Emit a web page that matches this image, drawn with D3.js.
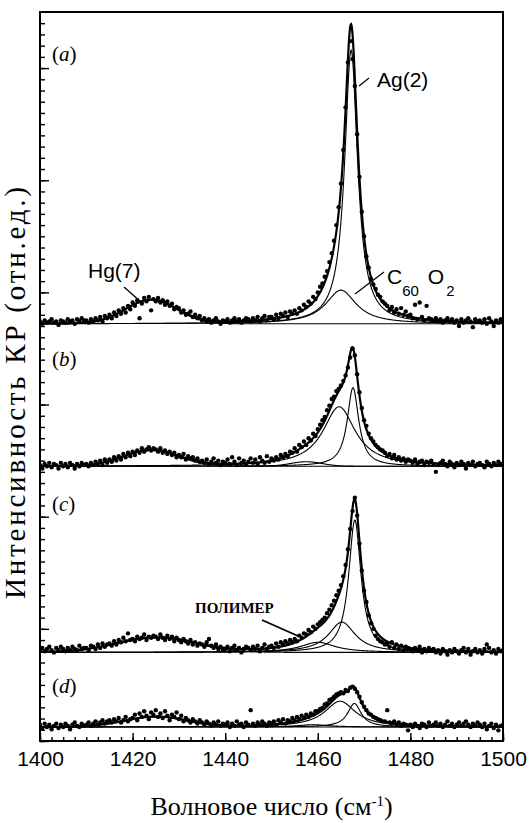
<!DOCTYPE html>
<html>
<head>
<meta charset="utf-8">
<script src="https://cdn.jsdelivr.net/npm/d3@7"></script>
<style>
html, body { margin: 0; padding: 0; background: #fff; }
</style>
</head>
<body>
<div id="chart"></div>
<script>
var width = 529, height = 823

// x axis
var xTicks = [1400, 1420, 1440, 1460, 1480, 1500]

// panels, top to bottom, baseline of each spectrum on the common intensity axis
var panelNames = ["a", "b", "c", "d"]
var panelBase = [3.72, 2.45, 0.79, 0.125]

// fitted components per panel: centre, height, FWHM, shape (L = Lorentz, G = Gauss)
var peakCenter = [
	[1467.2, 1465.0, 1424.0],
	[1467.6, 1464.6, 1457.5, 1424.0],
	[1468.0, 1465.2, 1460.0, 1425.0],
	[1467.9, 1464.8, 1459.0, 1425.0]]
var peakHeight = [
	[2.44, 0.30, 0.21],
	[0.70, 0.53, 0.04, 0.14],
	[1.18, 0.27, 0.09, 0.13],
	[0.21, 0.23, 0.02, 0.09]]
var peakWidth = [
	[3.4, 8.0, 13.0],
	[3.0, 8.5, 8.0, 14.0],
	[3.2, 7.0, 9.0, 20.0],
	[3.5, 8.0, 8.0, 16.0]]
var peakShape = [
	["L", "L", "G"],
	["L", "L", "G", "G"],
	["L", "L", "L", "G"],
	["L", "L", "L", "G"]]

// measured points, 1400..1500 cm-1 every 0.5 cm-1
var intensityA = [
	.02,.00,.03,.01,.02,.04,.01,.02,-.01,.03, .02,.01,.04,.02,.03,.00,.04,.02,.05,.03,
	.03,.01,.04,.02,.05,.03,.06,.02,.07,.05, .08,.05,.10,.07,.12,.09,.14,.10,.16,.13,
	.19,.16,.21,.05,.18,.23,.20,.24,.12,.22, .20,.23,.19,.21,.17,.20,.16,.18,.13,.15,
	.14,.10,.12,.08,.09,.11,.06,.08,.05,.07, .03,.05,.02,.04,.01,.03,.05,.02,.00,.03,
	.02,.04,.01,.03,.05,.02,.04,.01,.03,.05, .04,.02,.05,.03,.06,.02,.05,.07,.03,.06,
	.06,.04,.08,.05,.09,.07,.10,.06,.11,.09, .12,.09,.14,.12,.17,.15,.20,.18,.24,.22,
	.28,.33,.36,.42,.47,.55,.63,.74,.88,1.04, 1.25,1.55,1.93,2.33,2.52,2.36,2.12,1.69,1.31,1.00,
	.78,.60,.50,.40,.35,.31,.26,.24,.20,.18, .16,.12,.15,.10,.13,.09,.14,.08,.11,.07,
	.08,.05,.17,.04,.19,.06,.03,.16,.05,.04, .03,.05,.02,.04,.01,.03,.05,.02,.04,.01,
	.03,-.02,.04,.01,.03,.05,.02,-.03,.04,.02, .03,.01,.04,.00,.05,.02,-.02,.03,.01,.04,.02]
var intensityB = [
	.01,-.02,.02,.00,.03,-.01,.02,.01,-.02,.03, .00,.02,-.01,.03,.01,-.02,.02,.00,.03,.01,
	.02,.00,.03,.01,.04,.02,.05,.01,.06,.03, .06,.04,.08,.05,.09,.06,.11,.08,.12,.09,
	.13,.10,.14,.12,.16,.13,.15,.17,.14,.16, .15,.13,.16,.12,.14,.11,.13,.10,.12,.08,
	.10,.08,.11,.06,.09,.07,.08,.05,.07,.04, .05,.03,.06,.02,.04,.07,.03,.05,.01,.04,
	.03,.06,.02,.08,.04,.01,.07,.03,.05,.02, .04,.07,.03,.06,.02,.08,.05,.03,.09,.04,
	.07,.05,.08,.06,.10,.08,.11,.09,.13,.12, .16,.13,.19,.17,.22,.19,.25,.23,.29,.27,
	.33,.37,.41,.44,.50,.54,.60,.62,.67,.69, .72,.76,.81,.88,.97,1.05,.99,.82,.66,.52,
	.41,.36,.29,.25,.22,.19,.17,.15,.14,.12, .09,.11,.07,.10,.06,.08,.05,.07,.04,.06,
	.05,.03,.06,.02,.04,.05,.01,.04,.03,.05, .02,-.05,.01,.03,.05,.02,.00,.04,.02,-.01,
	.03,.01,.04,.02,-.02,.03,.01,.04,.00,.02, .03,.01,-.01,.04,.02,.00,.03,.01,.04,.02,.01]
var intensityC = [
	.02,.04,.01,.03,.05,.02,.00,.04,.02,.05, .03,.01,.04,.02,.05,.03,.02,.06,.03,.04,
	.04,.02,.06,.05,.03,.07,.04,.08,.05,.07, .08,.06,.10,.07,.11,.09,.13,.10,.17,.11,
	.12,.10,.14,.12,.13,.16,.11,.14,.13,.15, .14,.12,.16,.13,.11,.15,.12,.14,.10,.13,
	.11,.09,.12,.10,.08,.11,.07,.09,.06,.08, .07,.05,.09,.12,.06,.04,.07,.03,.05,.02,
	.03,.05,.01,.04,.06,.02,.04,.00,.03,.05, .04,.02,.05,.03,.06,.01,.04,.07,.03,.05,
	.06,.04,.08,.05,.09,.07,.10,.08,.11,.09, .12,.10,.15,.13,.17,.16,.20,.18,.23,.21,
	.25,.27,.29,.31,.35,.38,.42,.46,.51,.55, .60,.68,.78,.92,1.10,1.26,1.38,1.22,.97,.73,
	.55,.45,.33,.26,.21,.15,.12,.10,.09,.07, .08,.05,.09,.04,.07,.03,.06,.02,.05,.04,
	.03,.01,.04,.02,.05,.00,.03,.01,.04,.02, .03,.00,.02,-.01,.03,.01,-.02,.02,.00,.03,
	.01,-.01,.02,.04,.00,.03,-.02,.01,.03,.00, .02,-.01,.03,.07,.04,.00,.02,-.01,.03,.01,.02]
var intensityD = [
	.02,-.01,.03,.00,.02,-.02,.01,.03,-.01,.02, .00,.03,.01,-.02,.02,.04,.01,.00,.03,.01,
	.02,.04,.01,.03,.05,.02,.04,.06,.03,.05, .06,.04,.07,.05,.08,.04,.06,.09,.05,.07,
	.08,.11,.06,.12,.09,.14,.10,.07,.13,.11, .15,.09,.12,.08,.14,.10,.06,.11,.09,.13,
	.07,.10,.05,.08,.06,.04,.07,.05,.03,.06, .04,.02,.05,.03,.01,.04,.02,.05,.01,.03,
	.02,.04,.00,.03,.01,.05,.02,.03,.00,.04, .02,.15,.03,.01,.04,.02,.05,.03,.01,.04,
	.03,.05,.02,.06,.04,.07,.03,.06,.05,.08, .06,.09,.07,.10,.08,.11,.09,.12,.11,.14,
	.14,.16,.17,.20,.21,.24,.25,.27,.29,.30, .31,.30,.33,.32,.35,.36,.34,.31,.27,.22,
	.18,.15,.12,.11,.09,.08,.07,.06,.05,.05, .15,.04,.03,.05,.02,.04,.01,.03,.02,-.03,
	.02,.00,.03,.01,-.01,.03,.02,.00,.04,.01, .02,.04,.01,.03,.00,.02,.05,.01,.03,.00,
	.02,.04,.01,.03,.05,.02,.00,.03,.01,.04, .02,.00,.03,-.02,.01,.03,-.01,.02,-.03,.01,.02]
var intensities = [intensityA, intensityB, intensityC, intensityD]
var wavenumbers = intensityA.map(function(d, i){ return 1400 + i * 0.5 })

var margin = {left: 40, right: 26, top: 12, bottom: 82}
var plotW = width - margin.left - margin.right
var plotH = height - margin.top - margin.bottom

var svg = d3.select("#chart").append("svg")
	.attr("width", width)
	.attr("height", height)

var x = d3.scaleLinear().domain([1400, 1500]).range([margin.left, margin.left + plotW])
var y = d3.scaleLinear().domain([0, 6.5]).range([margin.top + plotH, margin.top])

svg.append("clipPath").attr("id", "clip")
	.append("rect")
	.attr("x", margin.left).attr("y", margin.top)
	.attr("width", plotW).attr("height", plotH)

function profile(shape, c, h, w, xv){
	var d = (xv - c) / (w / 2)
	if (shape == "L") return h / (1 + d * d)
	return h * Math.exp(-Math.LN2 * d * d)
}

var grid = d3.range(1400, 1500.001, 0.1)
var plot = svg.append("g").attr("clip-path", "url(#clip)")

panelNames.forEach(function(name, p){
	var base = panelBase[p]
	var g = plot.append("g").attr("class", "panel-" + name)
	var line = d3.line()
		.x(function(d){ return x(d[0]) })
		.y(function(d){ return y(base + d[1]) })

	// components (thin)
	peakCenter[p].forEach(function(c, k){
		var pts = grid.map(function(xv){ return [xv, profile(peakShape[p][k], c, peakHeight[p][k], peakWidth[p][k], xv)] })
		g.append("path").datum(pts)
			.attr("d", line)
			.attr("fill", "none").attr("stroke", "#000").attr("stroke-width", 1.1)
	})

	// sum of components (thick)
	var total = grid.map(function(xv){
		var s = 0
		peakCenter[p].forEach(function(c, k){ s += profile(peakShape[p][k], c, peakHeight[p][k], peakWidth[p][k], xv) })
		return [xv, s]
	})
	g.append("path").datum(total)
		.attr("d", line)
		.attr("fill", "none").attr("stroke", "#000").attr("stroke-width", 2.2)

	// points
	g.selectAll("circle")
		.data(intensities[p])
		.enter()
		.append("circle")
		.attr("cx", function(d, i){ return x(wavenumbers[i]) })
		.attr("cy", function(d){ return y(base + d) })
		.attr("r", 2.2)
		.attr("fill", "#000")
})

// axes, ticks inward
var xAxis = d3.axisBottom(x).tickValues(xTicks).tickSizeInner(-8).tickSizeOuter(0).tickPadding(10)
	.tickFormat(d3.format("d"))
var xMinor = d3.axisBottom(x).tickValues(d3.range(1400, 1500.01, 2.5)).tickSizeInner(-4).tickSizeOuter(0).tickFormat("")
var yAxis = d3.axisLeft(y).tickValues(d3.range(0, 6.01, 1)).tickSizeInner(-9).tickSizeOuter(0).tickFormat("")
var yMinor = d3.axisLeft(y).tickValues(d3.range(0, 6.45, 0.1)).tickSizeInner(-5).tickSizeOuter(0).tickFormat("")

svg.append("g").attr("transform", "translate(0," + (margin.top + plotH) + ")").call(xMinor)
var gx = svg.append("g").attr("transform", "translate(0," + (margin.top + plotH) + ")").call(xAxis)
gx.selectAll("text")
	.attr("font-family", "'Liberation Sans', Arial, sans-serif")
	.attr("font-size", 21)
	.attr("fill", "#000")
svg.append("g").attr("transform", "translate(" + margin.left + ",0)").call(yMinor)
svg.append("g").attr("transform", "translate(" + margin.left + ",0)").call(yAxis)
svg.selectAll(".domain").remove()
svg.selectAll(".tick line").attr("stroke", "#000").attr("stroke-width", 1.4)

svg.append("rect")
	.attr("x", margin.left).attr("y", margin.top)
	.attr("width", plotW).attr("height", plotH)
	.attr("fill", "none").attr("stroke", "#000").attr("stroke-width", 2)

// panel letters
var serif = "'Liberation Serif', 'Times New Roman', serif"
var sans = "'Liberation Sans', Arial, sans-serif"
var letterY = [61, 366, 511, 693]
panelNames.forEach(function(name, p){
	var t = svg.append("text")
		.attr("x", 52).attr("y", letterY[p])
		.attr("font-family", serif).attr("font-size", 21)
	t.append("tspan").text("(")
	t.append("tspan").attr("font-style", "italic").text(name)
	t.append("tspan").text(")")
})

// annotations
svg.append("text").attr("x", 377).attr("y", 87)
	.attr("font-family", sans).attr("font-size", 21).text("Ag(2)")
svg.append("line").attr("x1", 359).attr("y1", 86).attr("x2", 369).attr("y2", 78)
	.attr("stroke", "#000").attr("stroke-width", 1.3)

svg.append("text").attr("x", 88).attr("y", 278)
	.attr("font-family", sans).attr("font-size", 21).text("Hg(7)")
svg.append("line").attr("x1", 124).attr("y1", 287).attr("x2", 141).attr("y2", 302)
	.attr("stroke", "#000").attr("stroke-width", 1.3)

var c60 = svg.append("text").attr("x", 387).attr("y", 284)
	.attr("font-family", sans).attr("font-size", 21)
c60.append("tspan").text("C")
c60.append("tspan").attr("font-size", 15).attr("dy", 12).text("60")
c60.append("tspan").attr("dy", -12).attr("dx", 9).text("O")
c60.append("tspan").attr("font-size", 15).attr("dy", 12).attr("dx", 2).text("2")
svg.append("line").attr("x1", 355).attr("y1", 294).attr("x2", 384).attr("y2", 272)
	.attr("stroke", "#000").attr("stroke-width", 1.3)

svg.append("text").attr("x", 195).attr("y", 613)
	.attr("font-family", serif).attr("font-size", 15).attr("font-weight", "bold").text("ПОЛИМЕР")
svg.append("line").attr("x1", 262).attr("y1", 620).attr("x2", 298).attr("y2", 636)
	.attr("stroke", "#000").attr("stroke-width", 1.8)

// axis titles
var xt = svg.append("text")
	.attr("x", x(1450)).attr("y", 815)
	.attr("text-anchor", "middle")
	.attr("font-family", serif).attr("font-size", 26)
xt.append("tspan").text("Волновое число (см")
xt.append("tspan").attr("font-size", 15).attr("dy", -9).text("-1")
xt.append("tspan").attr("dy", 9).text(")")

svg.append("text")
	.attr("transform", "translate(25," + 393 + ") rotate(-90)")
	.attr("text-anchor", "middle")
	.attr("font-family", serif).attr("font-size", 29)
	.attr("textLength", 412).attr("lengthAdjust", "spacing")
	.text("Интенсивность КР (отн.ед.)")
</script>
</body>
</html>
